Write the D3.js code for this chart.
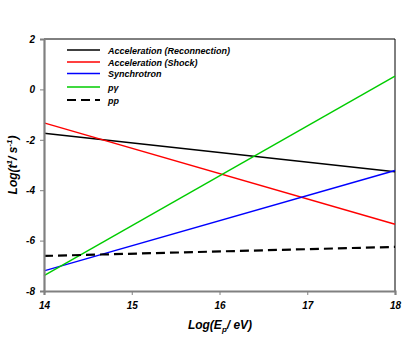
<!DOCTYPE html>
<html>
<head>
<meta charset="utf-8">
<script src="https://cdn.jsdelivr.net/npm/d3@7"></script>
<style>
  body { margin: 0; background: #fff; }
  text { font-family: "Liberation Sans", Arial, sans-serif; font-weight: bold; font-style: italic; }
</style>
</head>
<body>
<div id="chart"></div>
<script>
    // energy range, log10(E/eV)
    var energies = [14, 18];
    var xTicks = [14, 15, 16, 17, 18];
    var yTicks = [-8, -6, -4, -2, 0, 2];

    // log of inverse timescales at both ends
    var reconnection = [-1.74, -3.27];
    var shock = [-1.33, -5.35];
    var synchrotron = [-7.2, -3.22];
    var pGamma = [-7.39, 0.53];
    var pp = [-6.61, -6.25];

    var series = [
        { name: "Acceleration (Reconnection)", values: reconnection, color: "#000000", dash: null },
        { name: "Acceleration (Shock)", values: shock, color: "#ff0000", dash: null },
        { name: "Synchrotron", values: synchrotron, color: "#0000ff", dash: null },
        { name: "p\u03b3", values: pGamma, color: "#00cc00", dash: null },
        { name: "pp", values: pp, color: "#000000", dash: "9,5" }
    ];

    var W = 415, H = 340;
    var mLeft = 44, mRight = 395, mTop = 39, mBottom = 291;

    var svg = d3.select("#chart").append("svg")
        .attr("width", W)
        .attr("height", H);

    var x = d3.scaleLinear().domain([14, 18]).range([mLeft, mRight]);
    var y = d3.scaleLinear().domain([-8, 2]).range([mBottom, mTop]);

    // frame top / right
    svg.append("line").attr("x1", mLeft).attr("x2", mRight).attr("y1", mTop).attr("y2", mTop)
        .attr("stroke", "#000").attr("stroke-width", 1);
    svg.append("line").attr("x1", mRight).attr("x2", mRight).attr("y1", mTop).attr("y2", mBottom)
        .attr("stroke", "#000").attr("stroke-width", 1);

    // data lines
    var line = d3.line()
        .x(function(d, i) { return x(energies[i]); })
        .y(function(d) { return y(d); });

    series.forEach(function(s) {
        svg.append("path")
            .attr("d", line(s.values))
            .attr("fill", "none")
            .attr("stroke", s.color)
            .attr("stroke-width", s.dash ? 2.2 : 1.4)
            .attr("stroke-dasharray", s.dash);
    });

    // axes
    var xAxis = svg.append("g")
        .attr("transform", "translate(0," + mBottom + ")")
        .call(d3.axisBottom(x).tickValues(xTicks).tickFormat(d3.format("d")).tickSize(4).tickPadding(7));
    var yAxis = svg.append("g")
        .attr("transform", "translate(" + mLeft + ",0)")
        .call(d3.axisLeft(y).tickValues(yTicks).tickFormat(function(d) { return d; }).tickSize(4).tickPadding(5));

    [xAxis, yAxis].forEach(function(a) {
        a.select(".domain").attr("stroke", "#808080").attr("stroke-width", 2.2);
        a.selectAll(".tick line").attr("stroke", "#808080").attr("stroke-width", 1);
        a.selectAll(".tick text")
            .attr("fill", "#000")
            .style("font-size", "10px")
            .style("font-family", "Liberation Sans, Arial, sans-serif");
    });

    // axis titles
    var xl = svg.append("text")
        .attr("x", 220).attr("y", 329)
        .attr("text-anchor", "middle")
        .style("font-size", "12px");
    xl.append("tspan").text("Log(E");
    xl.append("tspan").attr("dy", 3).style("font-size", "8px").text("p");
    xl.append("tspan").attr("dy", -3).text("/ eV)");

    var yl = svg.append("text")
        .attr("transform", "translate(17,165) rotate(-90)")
        .attr("text-anchor", "middle")
        .style("font-size", "12px");
    yl.append("tspan").text("Log(t");
    yl.append("tspan").attr("dy", -5).style("font-size", "8px").text("1");
    yl.append("tspan").attr("dy", 5).text("/ s");
    yl.append("tspan").attr("dy", -5).style("font-size", "8px").text("-1");
    yl.append("tspan").attr("dy", 5).text(")");

    // legend
    var legendY = [50, 62, 73.5, 87, 100];
    var legend = svg.append("g");
    series.forEach(function(s, i) {
        legend.append("line")
            .attr("x1", 67).attr("x2", 100)
            .attr("y1", legendY[i]).attr("y2", legendY[i])
            .attr("stroke", s.color)
            .attr("stroke-width", s.dash ? 2.2 : 1.4)
            .attr("stroke-dasharray", s.dash);
        legend.append("text")
            .attr("x", 108).attr("y", legendY[i] + 3.5)
            .style("font-size", "9px")
            .text(s.name);
    });
</script>
</body>
</html>
